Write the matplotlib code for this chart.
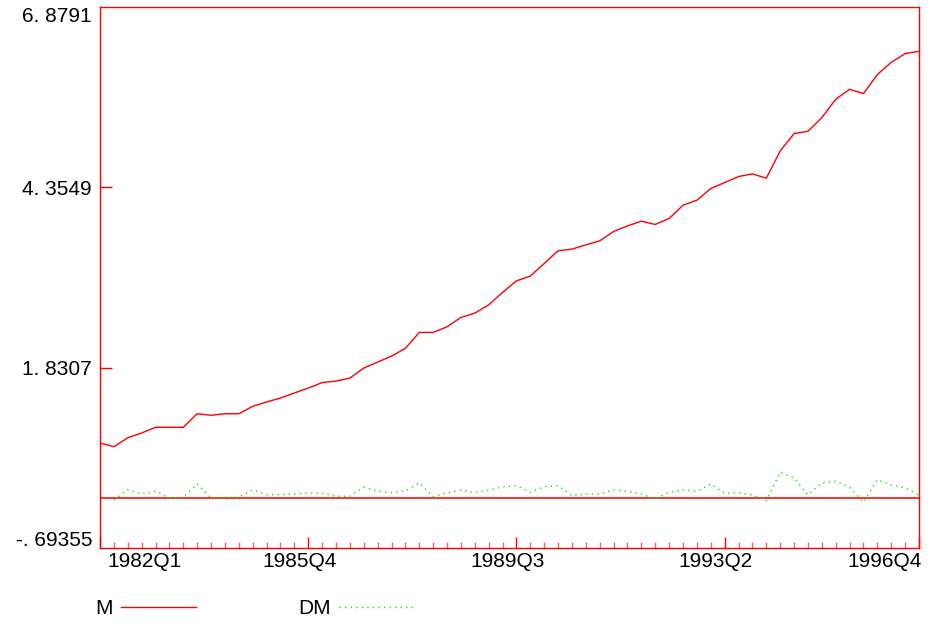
import matplotlib
matplotlib.use("Agg")
import matplotlib.pyplot as plt
import matplotlib.transforms as mtransforms

# quarterly periods 1982Q1 .. 1996Q4
periods = ["%dQ%d" % (y, q) for y in range(1982, 1997) for q in range(1, 5)]

m_values = [0.776, 0.724, 0.850, 0.916, 0.996, 0.996, 0.996, 1.186, 1.164, 1.186,
            1.186, 1.290, 1.350, 1.406, 1.476, 1.545, 1.622, 1.643, 1.685, 1.825,
            1.909, 1.993, 2.101, 2.324, 2.324, 2.403, 2.534, 2.594, 2.710, 2.884,
            3.046, 3.112, 3.290, 3.466, 3.490, 3.550, 3.606, 3.737, 3.815, 3.881,
            3.835, 3.919, 4.105, 4.175, 4.338, 4.422, 4.506, 4.543, 4.483, 4.864,
            5.108, 5.140, 5.331, 5.587, 5.727, 5.667, 5.933, 6.105, 6.227, 6.259]

# DM starts at 1982Q2
dm_values = [-0.021, 0.123, 0.063, 0.101, 0.007, 0.017, 0.203, 0.007, 0.017,
             0.017, 0.119, 0.053, 0.053, 0.063, 0.073, 0.073, 0.031, 0.031, 0.157,
             0.105, 0.081, 0.105, 0.217, 0.025, 0.077, 0.119, 0.081, 0.119, 0.161,
             0.179, 0.087, 0.165, 0.179, 0.039, 0.063, 0.063, 0.119, 0.101, 0.063,
             -0.007, 0.087, 0.119, 0.101, 0.203, 0.073, 0.077, 0.049, -0.031, 0.366,
             0.287, 0.049, 0.217, 0.241, 0.157, -0.053, 0.263, 0.189, 0.147, 0.049]

y_ticks = [-0.69355, 1.8307, 4.3549, 6.8791]
y_labels = ["-. 69355", "1. 8307", "4. 3549", "6. 8791"]
x_label_periods = ["1982Q1", "1985Q4", "1989Q3", "1993Q2", "1996Q4"]

plt.rcParams["font.family"] = ["Liberation Sans", "DejaVu Sans"]
fs = 15

fig = plt.figure(figsize=(9.52, 6.24), dpi=100)
ax = fig.add_axes([100 / 952, 1 - 548 / 624, 819 / 952, 541 / 624])

x_m = list(range(len(m_values)))
x_dm = list(range(1, len(m_values)))

ax.axhline(0, color="#ff3030", lw=1.4, zorder=1)
ax.plot(x_m, m_values, color="red", lw=1.0, label="M", zorder=3)
ax.plot(x_dm, dm_values, color="#00ee00", lw=1.0, linestyle=(0, (1, 3)),
        label="DM", zorder=2)

ax.set_xlim(0, len(m_values) - 1)
ax.set_ylim(y_ticks[0], y_ticks[-1])

for s in ax.spines.values():
    s.set_color("red")
    s.set_linewidth(1.0)

# y ticks: only the inner two get marks, the extremes are just labels
ax.set_yticks(y_ticks[1:3], y_labels[1:3])
ax.tick_params(axis="y", direction="in", length=8.5, width=1, color="red",
               pad=6, labelsize=fs)
ax.text(-8 / 819, 1 - 9 / 541, y_labels[3], transform=ax.transAxes,
        ha="right", va="center", fontsize=fs)
ax.text(-8 / 819, 8 / 541, y_labels[0], transform=ax.transAxes,
        ha="right", va="center", fontsize=fs)

# x ticks: every quarter minor, labelled periods major
major_idx = [periods.index(p) for p in x_label_periods]
ax.set_xticks(major_idx, x_label_periods)
ax.set_xticks(x_m, minor=True)
ax.tick_params(axis="x", which="major", direction="in", length=8, width=1,
               color="red", pad=3, labelsize=fs)
ax.tick_params(axis="x", which="minor", direction="in", length=4, width=1,
               color="#ff6060")
labels = ax.get_xticklabels()
for i, lab in enumerate(labels):
    if i == 0:
        lab.set_ha("left")
        lab.set_transform(lab.get_transform() + mtransforms.ScaledTranslation(7 / 100, 0, fig.dpi_scale_trans))
    elif i == len(labels) - 1:
        lab.set_ha("right")
        lab.set_transform(lab.get_transform() + mtransforms.ScaledTranslation(3 / 100, 0, fig.dpi_scale_trans))
    else:
        lab.set_transform(lab.get_transform() + mtransforms.ScaledTranslation(-9 / 100, 0, fig.dpi_scale_trans))

leg = ax.legend(loc="center left", bbox_to_anchor=(95 / 952, 1 - 609 / 624),
                bbox_transform=fig.transFigure, ncol=2, markerfirst=False,
                frameon=False, fontsize=fs, handlelength=3.6, handletextpad=0.4,
                columnspacing=4.9, borderpad=0, borderaxespad=0)

fig.savefig("out.png", dpi=100, facecolor="white")
